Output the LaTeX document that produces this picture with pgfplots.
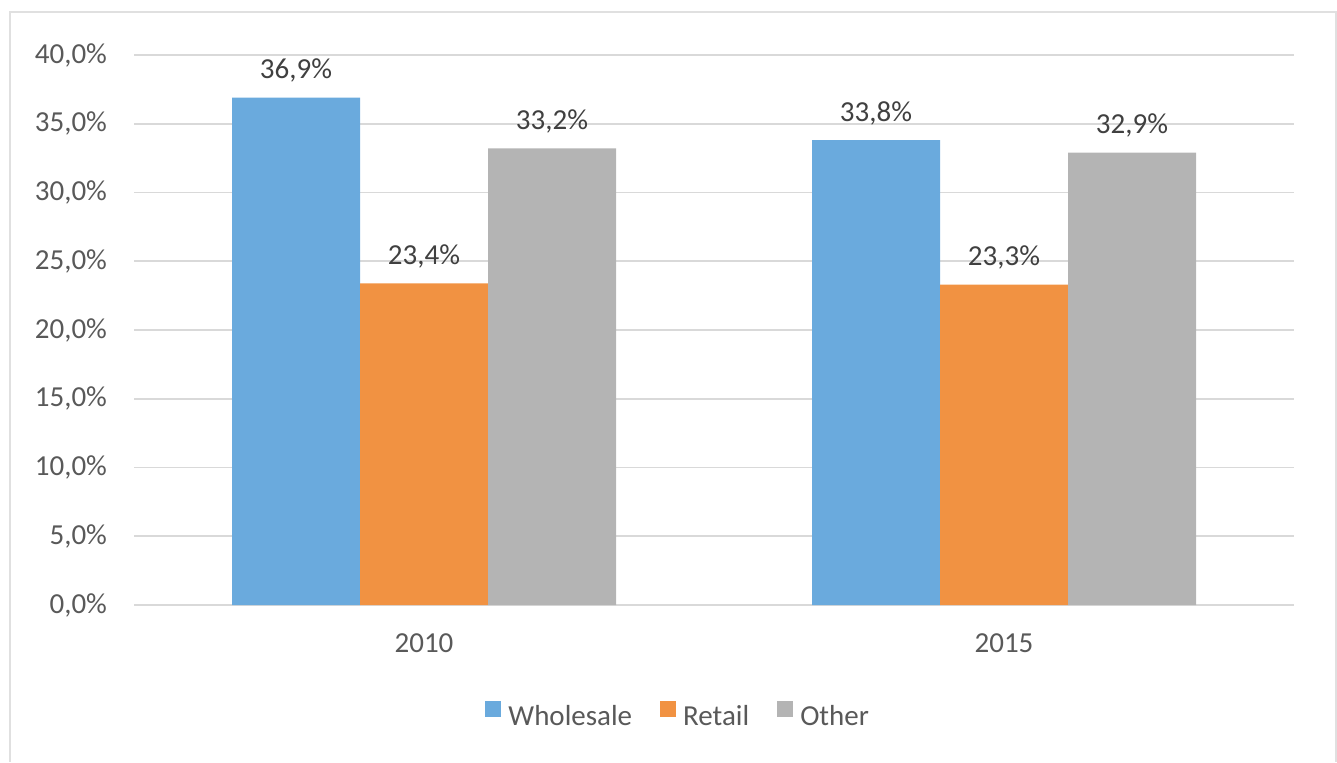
\documentclass[border=0pt]{standalone}
\usepackage{pgfplots}
\pgfplotsset{compat=1.18}
\usepackage{fontspec}
\setmainfont{Carlito}
\definecolor{cblue}{HTML}{6AAADD}
\definecolor{corange}{HTML}{F19242}
\definecolor{cgray}{HTML}{B4B4B4}
\definecolor{ctext}{HTML}{595959}
\definecolor{clabel}{HTML}{404040}
\definecolor{cgrid}{HTML}{D9D9D9}
\definecolor{cframe}{HTML}{E0E0E0}
\begin{document}
\begin{tikzpicture}[font=\fontsize{14.5pt}{16pt}\selectfont]
\useasboundingbox (0,0) rectangle (668.5pt,381pt);
\draw[cframe, line width=1pt] (5pt,0pt) -- (5pt,375pt) -- (668pt,375pt) -- (668pt,0pt);
\begin{axis}[
  at={(67pt,78.5pt)}, anchor=south west,
  scale only axis, width=580pt, height=275pt,
  ybar=0pt, bar width=64pt,
  xmin=-0.5, xmax=1.5, ymin=0, ymax=40,
  xtick={0,1}, xticklabels={2010,2015},
  ytick={0,5,...,40},
  yticklabel={\pgfmathprintnumber[fixed,fixed zerofill,precision=1,use comma]{\tick}\%},
  /pgf/number format/assume math mode=true,
  axis line style={draw=none},
  major tick length=0pt,
  ymajorgrids, grid style={cgrid, line width=0.8pt},
  tick label style={font=\fontsize{14.5pt}{16pt}\selectfont, text=ctext},
  yticklabel style={xshift=-10pt},
  xticklabel style={yshift=-11pt},
  nodes near coords={\pgfmathprintnumber[fixed,fixed zerofill,precision=1,use comma,assume math mode=true]{\pgfplotspointmeta}\%},
  nodes near coords style={font=\fontsize{14.5pt}{16pt}\selectfont, text=clabel, yshift=4pt},
  legend columns=-1,
  legend cell align=left,
  legend style={draw=none, fill=none, at={(0.470,-0.203)}, anchor=center,
    font=\fontsize{14.5pt}{16pt}\selectfont, text=ctext,
    /tikz/every odd column/.append style={column sep=1.5pt},
    /tikz/every even column/.append style={column sep=12pt},
    nodes={inner sep=2pt}},
  legend image code/.code={\fill[#1] (0pt,0pt) rectangle (8pt,8pt);},
]
\addplot[fill=cblue, draw=none] coordinates {(0,36.9) (1,33.8)};
\addplot[fill=corange, draw=none] coordinates {(0,23.4) (1,23.3)};
\addplot[fill=cgray, draw=none] coordinates {(0,33.2) (1,32.9)};
\legend{Wholesale, Retail, Other}
\end{axis}
\end{tikzpicture}
\end{document}
